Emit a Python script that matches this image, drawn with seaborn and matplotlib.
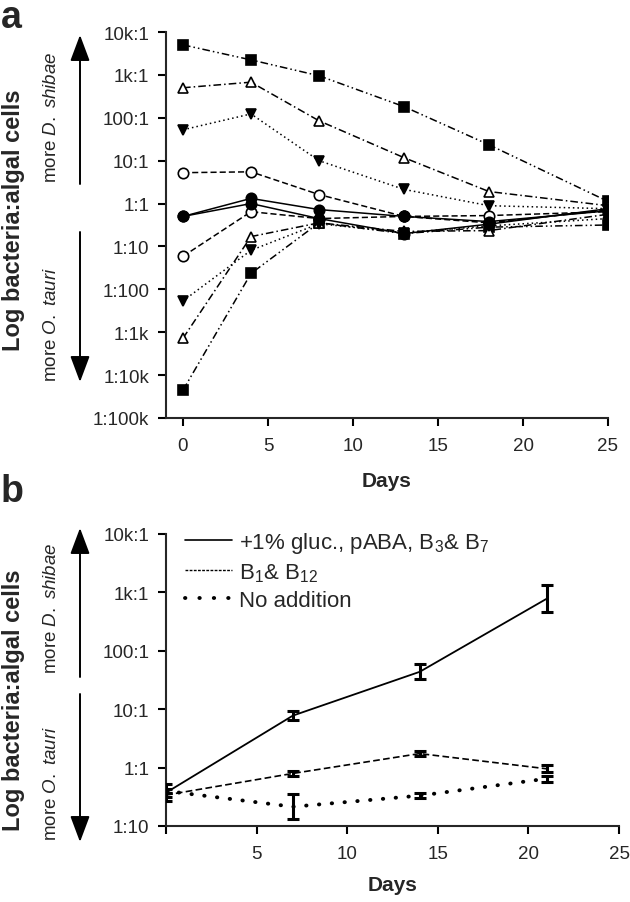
import matplotlib
matplotlib.use('Agg')
import matplotlib.pyplot as plt
from matplotlib.lines import Line2D
from matplotlib.patches import FancyArrowPatch
import numpy as np
import pandas as pd
import seaborn as sns

sns.set_style('ticks')
plt.rcParams['font.family'] = ['Liberation Sans', 'DejaVu Sans']
plt.rcParams['mathtext.fontset'] = 'custom'
plt.rcParams['mathtext.rm'] = 'Liberation Sans'
plt.rcParams['mathtext.it'] = 'Liberation Sans:italic'

# panel a: log10 ratio bacteria:algae
days_a = [0, 4, 8, 13, 18, 25]
sq_hi = [3.70, 3.35, 2.98, 2.26, 1.37, 0.05]
sq_lo = [-4.35, -1.63, -0.45, -0.70, -0.55, -0.50]
tri_hi = [2.70, 2.83, 1.93, 1.07, 0.28, -0.05]
tri_lo = [-3.14, -0.77, -0.45, -0.65, -0.63, -0.25]
tdn_hi = [1.72, 2.09, 1.00, 0.33, -0.05, -0.12]
tdn_lo = [-2.27, -1.09, -0.47, -0.68, -0.52, -0.35]
oc_hi = [0.72, 0.74, 0.21, -0.30, -0.28, -0.19]
oc_lo = [-1.23, -0.19, -0.35, -0.30, -0.45, -0.15]
fc_1 = [-0.30, 0.12, -0.14, -0.30, -0.42, -0.17]
fc_2 = [-0.30, 0.00, -0.35, -0.70, -0.48, -0.12]

ticks_a = [1e-5, 1e-4, 1e-3, 1e-2, 1e-1, 1, 10, 100, 1e3, 1e4]
ticklabels_a = ['1:100k', '1:10k', '1:1k', '1:100', '1:10', '1:1',
                '10:1', '100:1', '1k:1', '10k:1']

# panel b: mean log10 ratio and error (log units)
days_b = [0, 7, 14, 21]
gluc = [-0.43, 0.89, 1.64, 2.89]
gluc_err = [0.15, 0.08, 0.13, 0.23]
b1b12 = [-0.47, -0.10, 0.24, -0.02]
b1b12_err = [0.03, 0.04, 0.04, 0.06]
noadd = [-0.40, -0.67, -0.48, -0.19]
noadd_err = [0.04, 0.21, 0.04, 0.05]

ticks_b = [1e-1, 1, 10, 100, 1e3, 1e4]
ticklabels_b = ['1:10', '1:1', '10:1', '100:1', '1k:1', '10k:1']
legend_labels = ['+1% gluc., pABA, B$_3$& B$_7$', 'B$_1$& B$_{12}$', 'No addition']

W, H = 630, 903
fig = plt.figure(figsize=(6.3, 9.03), dpi=100)

def fx(x):
    return x / W

def fy(y):
    return 1 - y / H

ax_a = fig.add_axes([fx(166), fy(419), fx(608) - fx(166), fy(33) - fy(419)])
ax_b = fig.add_axes([fx(166), fy(827), fx(619) - fx(166), fy(535) - fy(827)])

series = [
    (sq_hi, 's', 'black', (0, (5, 2, 1, 2, 1, 2))),
    (sq_lo, 's', 'black', (0, (5, 2, 1, 2, 1, 2))),
    (tri_hi, '^', 'white', (0, (5, 2, 1, 2))),
    (tri_lo, '^', 'white', (0, (5, 2, 1, 2))),
    (tdn_hi, 'v', 'black', (0, (1, 2))),
    (tdn_lo, 'v', 'black', (0, (1, 2))),
    (oc_hi, 'o', 'white', (0, (4, 2))),
    (oc_lo, 'o', 'white', (0, (4, 2))),
    (fc_1, 'o', 'black', '-'),
    (fc_2, 'o', 'black', '-'),
]
for vals, mk, fc, ls in series:
    d = pd.DataFrame({'day': days_a, 'ratio': 10 ** np.array(vals)})
    sns.lineplot(data=d, x='day', y='ratio', ax=ax_a, color='black',
                 marker=mk, markerfacecolor=fc, markeredgecolor='black',
                 markersize=7.5, markeredgewidth=1.2, linestyle=ls,
                 linewidth=1.1)

ax_a.set_yscale('log')
ax_a.set_ylim(1e-5, 1e4)
ax_a.set_xlim(-1, 25)
ax_a.set_yticks(ticks_a)
ax_a.set_yticklabels(ticklabels_a)
ax_a.minorticks_off()
ax_a.set_xticks([0, 5, 10, 15, 20, 25])
ax_a.set_xlabel('Days', fontsize=15, fontweight='bold', labelpad=12)
ax_a.set_ylabel('')

# panel b
b_series = [
    (gluc, gluc_err, '-', 1.3, 'butt'),
    (b1b12, b1b12_err, (0, (4, 2)), 1.2, 'butt'),
    (noadd, noadd_err, (0, (0.1, 3.2)), 2.8, 'round'),
]
for vals, err, ls, lw, cap in b_series:
    v = np.array(vals)
    e = np.array(err)
    d = pd.DataFrame({'day': days_b, 'ratio': 10 ** v})
    sns.lineplot(data=d, x='day', y='ratio', ax=ax_b, color='black',
                 linestyle=ls, linewidth=lw, solid_capstyle=cap,
                 dash_capstyle=cap)
    lo = 10 ** v - 10 ** (v - e)
    hi = 10 ** (v + e) - 10 ** v
    ax_b.errorbar(days_b, 10 ** v, yerr=[lo, hi], fmt='none', ecolor='black',
                  elinewidth=2.2, capsize=4, capthick=2.2, zorder=5)

ax_b.set_yscale('log')
ax_b.set_ylim(1e-1, 1e4)
ax_b.set_xlim(0, 25)
ax_b.set_yticks(ticks_b)
ax_b.set_yticklabels(ticklabels_b)
ax_b.minorticks_off()
ax_b.set_xticks([0, 5, 10, 15, 20, 25])
ax_b.set_xticklabels(['', '5', '10', '15', '20', '25'])
ax_b.set_xlabel('Days', fontsize=15, fontweight='bold', labelpad=9)
ax_b.set_ylabel('')

handles = [
    Line2D([], [], color='black', lw=1.2, ls='-'),
    Line2D([], [], color='black', lw=1.0, ls=(0, (2, 1))),
    Line2D([], [], color='black', lw=2.8, ls=(0, (0.1, 3.6)),
           dash_capstyle='round'),
]
fig.legend(handles, legend_labels, loc='upper left',
           bbox_to_anchor=(fx(185), fy(531)), bbox_transform=fig.transFigure,
           frameon=False, fontsize=16, handlelength=2.1, handletextpad=0.35,
           labelspacing=0.28, borderpad=0, borderaxespad=0)

for ax in (ax_a, ax_b):
    sns.despine(ax=ax)
    for s in ('left', 'bottom'):
        ax.spines[s].set_linewidth(1.5)
    ax.tick_params(direction='out', length=6, width=1.5, labelsize=13.5,
                   color='black')
    ax.tick_params(axis='x', pad=8)
    ax.tick_params(axis='y', pad=6)

# panel letters
fig.text(fx(1), fy(0.5), 'a', fontsize=27, fontweight='bold', va='top', ha='left')
fig.text(fx(1), fy(502), 'b', fontsize=27, fontweight='bold', va='baseline', ha='left')

# y labels and arrows
for yc, yd, yo, up, dn in [
    (220, 117, 325, (185, 36), (233, 383)),
    (700, 608, 784, (678, 529), (695, 843)),
]:
    fig.text(fx(14), fy(yc), 'Log bacteria:algal cells', rotation=90,
             fontsize=17, fontweight='bold', ha='center', va='center')
    fig.text(fx(52), fy(yd), r'more $\mathit{D.\ shibae}$', rotation=90,
             fontsize=13.5, ha='center', va='center')
    fig.text(fx(52), fy(yo), r'more $\mathit{O.\ tauri}$', rotation=90,
             fontsize=13.5, ha='center', va='center')
    for y0, y1 in (up, dn):
        fig.add_artist(FancyArrowPatch(
            (fx(80), fy(y0)), (fx(80), fy(y1)), transform=fig.transFigure,
            arrowstyle='-|>,head_length=1.6,head_width=0.6',
            mutation_scale=10, color='black', lw=1.4, shrinkA=0, shrinkB=0))

fig.savefig('out.png', dpi=100)
